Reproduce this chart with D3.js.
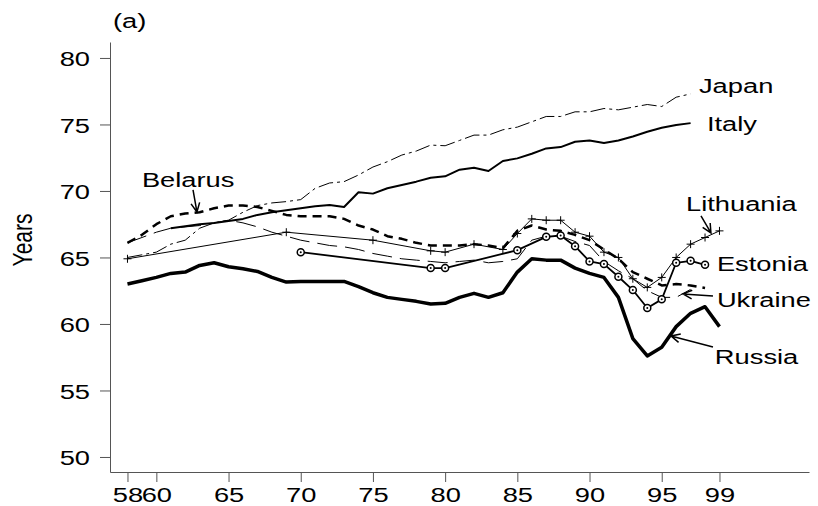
<!DOCTYPE html>
<html>
<head>
<meta charset="utf-8">
<script src="https://cdnjs.cloudflare.com/ajax/libs/d3/7.8.5/d3.min.js"></script>
<style>
body { margin: 0; background: #fff; }
svg text { font-family: "Liberation Sans", Arial, sans-serif; font-size: 21px; fill: #000; }
</style>
</head>
<body>
<div id="chart"></div>
<script>
// life expectancy, [year, value]
const japan = [[58,65.0],[59,65.2],[60,65.4],[61,66.0],[62,66.3],[63,67.2],[64,67.6],[65,67.8],[66,68.4],[67,68.9],
  [68,69.1],[69,69.2],[70,69.35],[71,70.2],[72,70.6],[73,70.7],[74,71.2],[75,71.8],[76,72.2],[77,72.7],[78,73.0],
  [79,73.45],[80,73.4],[81,73.8],[82,74.2],[83,74.2],[84,74.6],[85,74.8],[86,75.2],[87,75.6],[88,75.6],[89,75.95],
  [90,75.95],[91,76.2],[92,76.1],[93,76.3],[94,76.5],[95,76.35],[96,77.05],[97,77.3]];
const italy = [[61,67.2],[62,67.35],[63,67.5],[64,67.6],[65,67.75],[66,67.9],[67,68.2],[68,68.4],[69,68.55],[70,68.7],
  [71,68.85],[72,68.95],[73,68.8],[74,69.9],[75,69.8],[76,70.2],[77,70.45],[78,70.7],[79,71.0],[80,71.1],[81,71.6],
  [82,71.75],[83,71.5],[84,72.25],[85,72.45],[86,72.8],[87,73.2],[88,73.3],[89,73.7],[90,73.8],[91,73.6],[92,73.8],
  [93,74.1],[94,74.45],[95,74.75],[96,74.96],[97,75.1]];
const belarus = [[58,66.1],[59,66.7],[60,67.5],[61,68.1],[62,68.3],[63,68.4],[64,68.7],[65,68.9],[66,68.9],[67,68.8],
  [68,68.5],[69,68.2],[70,68.1],[71,68.1],[72,68.1],[73,67.9],[74,67.4],[75,67.1],[76,66.6],[77,66.4],[78,66.1],
  [79,65.9],[80,65.9],[81,65.9],[82,66.0],[83,65.9],[84,65.7],[85,67.0],[86,67.4],[87,67.1],[88,67.0],[89,66.7],
  [90,66.3],[91,65.6],[92,64.9],[93,63.9],[94,63.4],[95,62.9],[96,63.0],[97,62.9],[98,62.7]];
const ukraine = [[58,66.1],[60,66.9],[61,67.2],[62,67.3],[63,67.4],[64,67.6],[65,67.8],[66,67.6],[67,67.3],[68,66.9],
  [69,66.6],[70,66.3],[71,66.1],[72,65.9],[73,65.8],[74,65.6],[75,65.3],[76,65.1],[77,64.9],[78,64.8],[79,64.7],
  [80,64.6],[81,64.7],[82,64.8],[83,64.6],[84,64.7],[85,64.9],[86,66.3],[87,66.6],[88,66.6],[89,66.2],[90,65.9],
  [91,64.7],[92,64.0],[93,63.4],[94,62.5],[95,62.0],[96,62.0],[97,62.6]];
const lithuania = [[58,64.9],[69,66.9],[75,66.3],[79,65.5],[80,65.4],[82,66.0],[84,65.6],[85,66.8],[86,67.9],[87,67.8],
  [88,67.8],[89,66.9],[90,66.6],[91,65.4],[92,65.0],[93,63.4],[94,62.75],[95,63.5],[96,65.0],[97,66.0],[98,66.5],[99,67.0]];
const estonia = [[70,65.4],[79,64.2],[80,64.2],[85,65.55],[87,66.55],[88,66.65],[89,65.85],[90,64.7],[91,64.5],
  [92,63.55],[93,62.55],[94,61.2],[95,61.85],[96,64.6],[97,64.75],[98,64.45]];
const russia = [[58,63.0],[59,63.25],[60,63.5],[61,63.8],[62,63.9],[63,64.4],[64,64.6],[65,64.3],[66,64.15],[67,63.95],
  [68,63.5],[69,63.15],[70,63.2],[71,63.2],[72,63.2],[73,63.2],[74,62.8],[75,62.35],[76,62.0],[77,61.85],[78,61.7],
  [79,61.5],[80,61.55],[81,62.0],[82,62.3],[83,62.0],[84,62.35],[85,63.9],[86,64.9],[87,64.8],[88,64.8],[89,64.2],
  [90,63.8],[91,63.5],[92,62.0],[93,58.9],[94,57.6],[95,58.25],[96,59.8],[97,60.8],[98,61.3],[99,59.8]];

const xTicks = [58, 60, 65, 70, 75, 80, 85, 90, 95, 99];
const yTicks = [50, 55, 60, 65, 70, 75, 80];

// labels placed in data units: [text, year, value]
const labels = [["Japan",97.58,77.37],["Italy",98.13,74.51],["Lithuania",96.68,68.5],["Estonia",98.82,63.95],
  ["Ukraine",98.82,61.3],["Russia",98.68,56.99],["Belarus",59.0,70.3]];
// arrows: [fromYear, fromValue, toYear, toValue]
const arrows = [[62.54,70.08,62.81,68.42],[97.72,68.12,98.41,66.84],[98.55,62.1,96.47,62.26],[98.55,58.27,95.64,59.1]];

const width = 818, height = 506;
const stretch = 1.3; // reference text is drawn wider than tall

const x = d3.scaleLinear().domain([56.79, 105.2]).range([110, 809]);
const y = d3.scaleLinear().domain([48.87, 81.2]).range([472, 42]);

const svg = d3.select("#chart").append("svg")
    .attr("width", width)
    .attr("height", height);

const line = d3.line().x(d => x(d[0])).y(d => y(d[1]));

const series = [
  {data: japan, width: 1, dash: "15,4,3,4"},
  {data: italy, width: 2, dash: null},
  {data: ukraine, width: 1, dash: "20,8"},
  {data: belarus, width: 2.5, dash: "9,6"},
  {data: lithuania, width: 1, dash: null},
  {data: estonia, width: 1.8, dash: null},
  {data: russia, width: 3.5, dash: null}
];

series.forEach(s => {
  svg.append("path")
    .attr("d", line(s.data))
    .attr("fill", "none")
    .attr("stroke", "#000")
    .attr("stroke-width", s.width)
    .attr("stroke-linejoin", "round")
    .attr("stroke-dasharray", s.dash);
});

// + markers on Lithuania
svg.selectAll(".plus").data(lithuania).enter().append("path")
    .attr("class", "plus")
    .attr("d", d => `M${x(d[0]) - 4},${y(d[1])}h8M${x(d[0])},${y(d[1]) - 4}v8`)
    .attr("stroke", "#000")
    .attr("stroke-width", 1);

// circle markers on Estonia
svg.selectAll(".ring").data(estonia).enter().append("circle")
    .attr("class", "ring")
    .attr("cx", d => x(d[0]))
    .attr("cy", d => y(d[1]))
    .attr("r", 3.5)
    .attr("fill", "#fff")
    .attr("stroke", "#000")
    .attr("stroke-width", 1.5);
svg.selectAll(".dot").data(estonia).enter().append("circle")
    .attr("class", "dot")
    .attr("cx", d => x(d[0]))
    .attr("cy", d => y(d[1]))
    .attr("r", 1)
    .attr("fill", "#000");

// axes
const yAxisG = svg.append("g")
    .attr("transform", `translate(${x.range()[0]},0)`)
    .call(d3.axisLeft(y).tickValues(yTicks).tickSize(10).tickSizeOuter(0));
yAxisG.selectAll("text")
    .attr("x", -20 / stretch)
    .attr("dy", "0.36em")
    .attr("transform", `scale(${stretch},1)`);

const xAxisG = svg.append("g")
    .attr("transform", `translate(0,${y.range()[0]})`)
    .call(d3.axisBottom(x).tickValues(xTicks).tickSize(10).tickSizeOuter(0).tickPadding(5));
xAxisG.selectAll("text")
    .attr("transform", `scale(${stretch},1)`);

svg.selectAll(".domain, .tick line").attr("stroke", "#555");
svg.selectAll(".tick text").style("font-size", "21px").attr("fill", "#000");

// labels
svg.selectAll(".lab").data(labels).enter().append("text")
    .attr("class", "lab")
    .attr("transform", d => `translate(${x(d[1])},${y(d[2])}) scale(${stretch},1)`)
    .text(d => d[0]);

svg.append("text")
    .attr("transform", `translate(${x.range()[0] + 3},28) scale(${stretch},1)`)
    .text("(a)");

svg.append("text")
    .attr("transform", `translate(32,240) scale(${stretch},1) rotate(-90)`)
    .attr("text-anchor", "middle")
    .text("Years");

// arrows with open heads
arrows.forEach(a => {
  const x1 = x(a[0]), y1 = y(a[1]), x2 = x(a[2]), y2 = y(a[3]);
  const ang = Math.atan2(y2 - y1, x2 - x1);
  const len = 10, spread = 0.45;
  const hx1 = x2 - len * Math.cos(ang - spread), hy1 = y2 - len * Math.sin(ang - spread);
  const hx2 = x2 - len * Math.cos(ang + spread), hy2 = y2 - len * Math.sin(ang + spread);
  svg.append("path")
    .attr("d", `M${x1},${y1}L${x2},${y2}M${hx1},${hy1}L${x2},${y2}L${hx2},${hy2}`)
    .attr("fill", "none")
    .attr("stroke", "#000")
    .attr("stroke-width", 1.5);
});
</script>
</body>
</html>
